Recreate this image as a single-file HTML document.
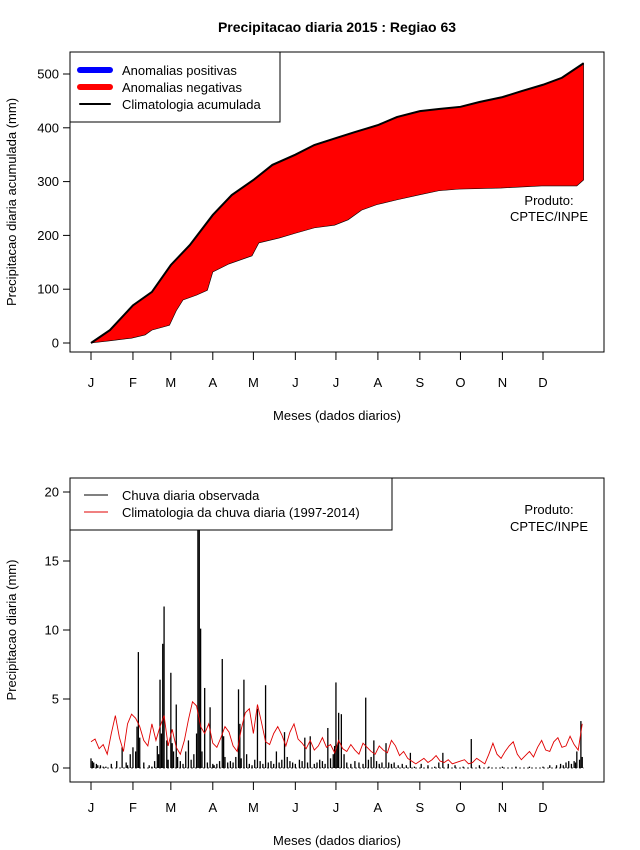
<!DOCTYPE html>
<html><head><meta charset="utf-8">
<style>
html,body{margin:0;padding:0;background:#fff;}
svg{display:block;font-family:"Liberation Sans",Arial,sans-serif;}
</style></head>
<body>
<svg id="chart" width="640" height="850" viewBox="0 0 640 850">
<text x="337" y="32" text-anchor="middle" font-size="14" font-weight="bold">Precipitacao diaria 2015 : Regiao 63</text>
<g id="top"></g>
<g id="bot"></g>
</svg>
<script>
// ---- data ----
const monthLabels = ["J","F","M","A","M","J","J","A","S","O","N","D"];
const monthStartDays = [1,32,60,91,121,152,182,213,244,274,305,335];
const topTicks = [0,100,200,300,400,500];
const botTicks = [0,5,10,15,20];
// cumulative climatology (mm) at days
const climCumDays = [1,15,32,46,60,74,91,105,121,135,152,166,182,196,213,227,244,258,274,288,305,319,335,349,365];
const climCumVals = [0,24,70,95,145,182,238,275,303,331,350,368,381,392,405,420,431,435,439,448,457,468,480,493,520];
// cumulative observed (mm)
const obsCumDays = [1,15,31,41,46,59,64,69,79,87,91,103,120,125,140,152,166,181,191,201,212,227,243,258,273,304,334,355,360,365];
const obsCumVals = [0,4,9,15,24,33,60,80,89,98,132,147,162,186,195,204,214,219,229,247,257,266,275,283,286,288,292,292,292,303];
// daily observed rain (mm)
const obsDays = [1,2,3,5,6,8,10,12,16,20,24,27,28,30,32,34,35,36,37,40,44,46,48,50,51,52,53,54,55,57,58,60,61,62,64,65,67,69,71,73,75,77,79,80,81,82,83,85,87,89,91,92,94,96,98,99,100,102,104,106,108,110,111,112,114,116,118,120,122,124,126,128,130,132,134,136,138,140,142,144,146,148,150,152,155,157,159,161,163,166,168,170,172,174,176,178,180,181,182,183,184,186,188,190,193,196,199,202,204,206,208,210,212,214,216,219,221,223,225,228,231,234,237,240,245,250,255,258,261,265,270,276,282,288,295,305,315,325,335,340,345,348,350,352,354,356,358,359,360,362,363,364];
const obsVals = [0.7,0.5,0.4,0.3,0.2,0.2,0.1,0.1,0.3,0.5,1.5,0.4,0.2,1.0,1.5,1.2,3.0,8.4,2.2,0.4,0.2,0.1,0.5,1.6,1.0,6.4,2.5,9.0,11.7,2.0,0.6,6.9,1.8,1.2,4.6,0.8,0.5,0.3,1.2,2.0,0.6,1.0,2.5,17.5,20,10.1,1.2,5.8,0.4,4.4,0.3,0.2,0.3,0.5,7.9,2.3,0.8,0.4,0.5,0.4,0.8,5.7,3.2,0.7,6.4,1.0,0.3,0.2,0.6,4.3,0.5,0.3,6.0,0.4,0.5,0.3,1.2,0.4,0.6,2.6,0.8,0.5,0.4,0.3,0.6,0.5,2.2,0.4,2.3,0.3,0.4,0.6,0.5,0.3,2.9,0.7,1.0,1.6,6.2,1.7,4.0,3.9,1.0,0.4,0.3,0.5,0.4,0.3,5.1,0.6,0.8,2.0,0.5,0.3,0.4,1.8,0.4,0.3,0.4,0.2,0.3,0.2,1.1,0.1,0.3,0.2,0.1,0.4,1.1,0.3,0.2,0.1,2.1,0.2,0.1,0.1,0.1,0.1,0.1,0.2,0.2,0.3,0.2,0.4,0.5,0.3,0.5,0.4,1.2,0.6,3.4,0.8,0.6,5.0,2.7];
// climatology daily rain (mm), every 3 days starting day 1
const climDailyVals = [1.9,2.1,1.4,1.7,1.0,2.5,3.8,2.2,1.2,3.2,3.9,3.6,3.0,2.0,1.6,3.2,2.0,3.0,3.8,1.6,2.8,1.5,1.0,2.0,3.5,4.8,4.5,3.0,2.5,3.2,1.8,1.5,2.2,3.0,2.6,1.6,1.2,2.8,4.0,4.3,2.5,4.6,3.3,1.9,1.7,2.5,3.0,2.4,1.6,2.6,3.2,2.1,1.8,1.4,2.0,1.3,1.6,2.2,1.5,1.7,1.1,2.0,1.4,1.2,1.7,1.3,1.0,1.8,1.5,1.2,1.0,1.6,1.3,1.1,2.0,1.6,0.9,1.2,0.7,0.5,0.3,0.5,0.7,0.4,0.6,0.9,0.5,0.4,0.6,0.3,0.4,0.5,0.6,0.3,0.4,0.7,0.5,0.3,1.0,1.8,1.0,0.7,1.2,1.6,1.9,1.0,0.6,0.9,1.2,0.8,1.5,2.0,1.3,1.2,1.9,2.2,1.5,1.6,2.3,1.7,1.3,3.2];

// ---- drawing ----
const NS="http://www.w3.org/2000/svg";
function mk(parent,tag,attrs){const e=document.createElementNS(NS,tag);for(const k in attrs)e.setAttribute(k,attrs[k]);parent.appendChild(e);return e;}
const xDay = d => 91 + (d-1)*(543-91)/334;
const yTop = v => 343 - v*0.538;
const yBot = v => 768 - v*13.8;

function axes(g, top, bottom, ticks, yfn, ylab, tickY, xLabY){
  const box=mk(g,'rect',{x:70,y:top,width:534,height:bottom-top,fill:'none',stroke:'#000','stroke-width':1});
  
  
  ticks.forEach(t=>{
    const y=yfn(t);
    const l=mk(g,'line',{x1:63,x2:70,y1:y,y2:y,stroke:'#000'});
    
    
    const tx=mk(g,'text',{x:59,y:y+4.5,'text-anchor':'end','font-size':13});
    tx.textContent=t;
    
    
  });
  monthStartDays.forEach((d,i)=>{
    const x=xDay(d);
    const l=mk(g,'line',{x1:x,x2:x,y1:bottom,y2:bottom+8,stroke:'#000'});
    
    
    const tx=mk(g,'text',{x:x,y:tickY,'text-anchor':'middle','font-size':13});
    tx.textContent=monthLabels[i];
    
    
  });
  const xl=mk(g,'text',{x:337,y:xLabY,'text-anchor':'middle','font-size':13});
  xl.textContent='Meses (dados diarios)';
  
  
  const cy=(top+bottom)/2;
  const yl=mk(g,'text',{x:16,y:cy,'text-anchor':'middle','font-size':13,transform:`rotate(-90 16 ${cy})`});
  yl.textContent=ylab;
  
  
}

// top panel
const gt=document.getElementById('top');
axes(gt,52,352,topTicks,yTop,'Precipitacao diaria acumulada (mm)',387,420);
let up=climCumDays.map((d,i)=>xDay(d)+','+yTop(climCumVals[i]));
let lo=obsCumDays.map((d,i)=>xDay(d)+','+yTop(obsCumVals[i])).reverse();
const area=mk(gt,'polygon',{points:up.concat(lo).join(' '),fill:'#ff0000',stroke:'#000','stroke-width':0.6});


const cl=mk(gt,'polyline',{points:up.join(' '),fill:'none',stroke:'#000','stroke-width':2});



// top legend
const lg=mk(gt,'g',{});


mk(lg,'rect',{x:70,y:52,width:210,height:70,fill:'#fff',stroke:'#000'});
[['#0000ff',6,'Anomalias positivas'],['#ff0000',6,'Anomalias negativas'],['#000',2,'Climatologia acumulada']].forEach((e,i)=>{
  const y=70+i*17;
  const le=mk(lg,'line',{x1:80,x2:110,y1:y,y2:y,stroke:e[0],'stroke-width':e[1],'stroke-linecap':'round'});
  
  
  const t=mk(lg,'text',{x:122,y:y+5,'font-size':13});
  t.textContent=e[2];
  
  
});
[['Produto:',205],['CPTEC/INPE',221]].forEach(p=>{
  const t=mk(gt,'text',{x:549,y:p[1],'text-anchor':'middle','font-size':13});
  t.textContent=p[0];
  
  
});

// bottom panel
const gb=document.getElementById('bot');
axes(gb,478,782,botTicks,yBot,'Precipitacao diaria (mm)',812,845);
const clip=mk(gb,'clipPath',{id:'bclip'});
mk(clip,'rect',{x:70,y:478,width:534,height:304});
const bars=mk(gb,'g',{'clip-path':'url(#bclip)'});


obsDays.forEach((d,i)=>{
  const x=xDay(d);
  const b=mk(bars,'line',{x1:x,x2:x,y1:yBot(0),y2:yBot(obsVals[i]),stroke:'#000','stroke-width':1.3});
  
  
});
const base=mk(gb,'line',{x1:xDay(1),x2:xDay(365),y1:yBot(0),y2:yBot(0),stroke:'#000','stroke-width':0.8,'stroke-dasharray':'2 2'});


const cpts=climDailyVals.map((v,i)=>xDay(1+3*i)+','+yBot(v)).join(' ');
const rl=mk(gb,'polyline',{points:cpts,fill:'none',stroke:'#e00000','stroke-width':0.9});



// bottom legend
const lg2=mk(gb,'g',{});


mk(lg2,'rect',{x:70,y:478,width:322,height:52,fill:'#fff',stroke:'#000'});
[['#000','Chuva diaria observada'],['#e00000','Climatologia da chuva diaria (1997-2014)']].forEach((e,i)=>{
  const y=495+i*17;
  const le=mk(lg2,'line',{x1:84,x2:108,y1:y,y2:y,stroke:e[0],'stroke-width':1});
  
  
  const t=mk(lg2,'text',{x:122,y:y+5,'font-size':13});
  t.textContent=e[1];
  
  
});
[['Produto:',514],['CPTEC/INPE',531]].forEach(p=>{
  const t=mk(gb,'text',{x:549,y:p[1],'text-anchor':'middle','font-size':13});
  t.textContent=p[0];
  
  
});
</script>
</body></html>
